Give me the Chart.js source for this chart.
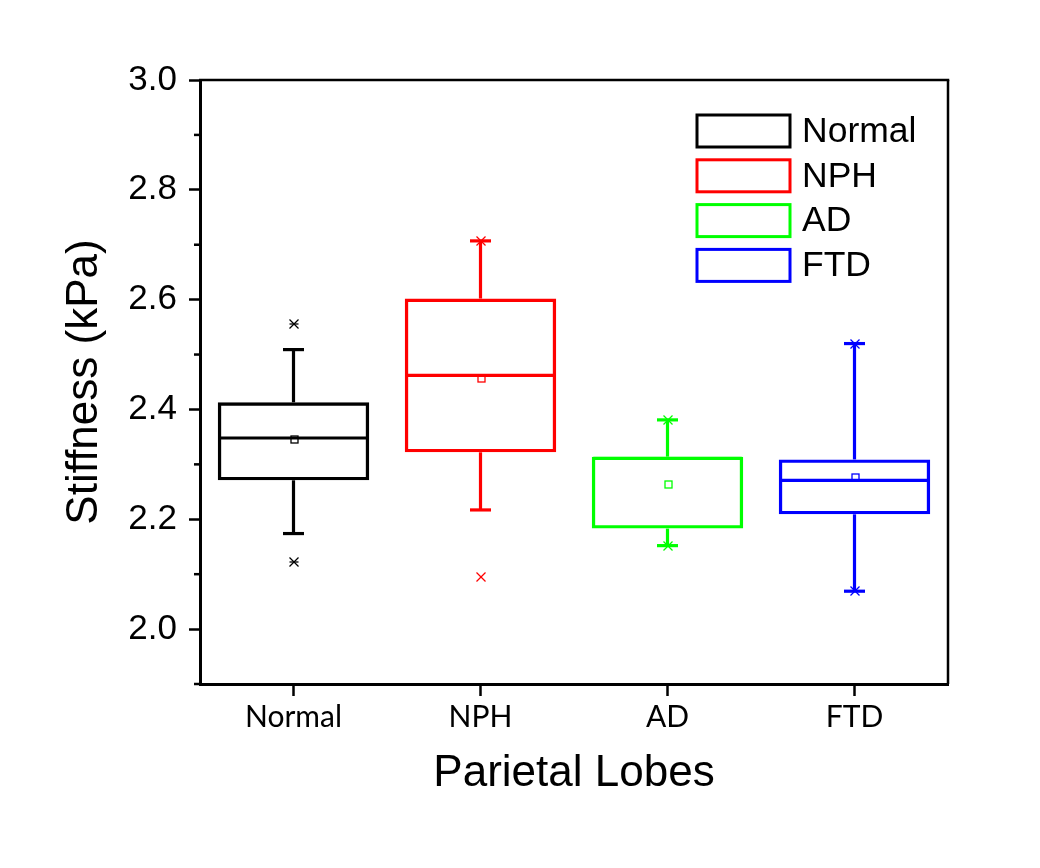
<!DOCTYPE html>
<html><head><meta charset="utf-8">
<script src="https://cdn.jsdelivr.net/npm/chart.js@4/dist/chart.umd.min.js"></script>
<style>html,body{margin:0;padding:0;background:#fff}#wrap{width:1040px;height:868px}</style>
</head><body><div id="wrap"><canvas id="c" width="1040" height="868"></canvas></div>
<script>
const categories = ['Normal', 'NPH', 'AD', 'FTD'];
const colors = ['#000000', '#FF0000', '#00FF00', '#0000FF'];
const q1 = [2.271, 2.322, 2.183, 2.209];
const q3 = [2.413, 2.602, 2.314, 2.309];
const median = [2.348, 2.462, 2.311, 2.271];
const mean = [2.347, 2.457, 2.265, 2.277];
const whiskerLow = [2.174, 2.217, 2.152, 2.069];
const whiskerHigh = [2.509, 2.707, 2.381, 2.520];
const markLow = [2.122, 2.094, 2.152, 2.069];
const markHigh = [2.556, 2.707, 2.381, 2.520];
const yMajorTicks = [2.0, 2.2, 2.4, 2.6, 2.8, 3.0];
const yMinorTicks = [1.9, 2.1, 2.3, 2.5, 2.7, 2.9];
const yTitle = 'Stiffness (kPa)';
const xTitle = 'Parietal Lobes';

const ARIAL = '"Liberation Sans", Arial, sans-serif';

function line(ctx, x1, y1, x2, y2) {
  ctx.beginPath(); ctx.moveTo(x1, y1); ctx.lineTo(x2, y2); ctx.stroke();
}

const boxPlugin = {
  id: 'boxExtras',
  afterDatasetsDraw(chart) {
    const ctx = chart.ctx, xs = chart.scales.x, ys = chart.scales.y;
    const meta = chart.getDatasetMeta(0);
    ctx.save();
    categories.forEach((c, i) => {
      const cx = xs.getPixelForValue(i);
      const half = meta.data[i].width / 2;
      const yp = v => ys.getPixelForValue(v);
      ctx.strokeStyle = colors[i];
      ctx.lineCap = 'butt';
      ctx.lineWidth = 3.2;
      line(ctx, cx - half + 1.5, yp(median[i]), cx + half - 1.5, yp(median[i]));
      line(ctx, cx, yp(q3[i]), cx, yp(whiskerHigh[i]));
      line(ctx, cx, yp(q1[i]), cx, yp(whiskerLow[i]));
      line(ctx, cx - 10.5, yp(whiskerHigh[i]), cx + 10.5, yp(whiskerHigh[i]));
      line(ctx, cx - 10.5, yp(whiskerLow[i]), cx + 10.5, yp(whiskerLow[i]));
      ctx.lineWidth = 1.3;
      const my = Math.round(yp(mean[i]));
      const mx = Math.round(cx);
      ctx.strokeRect(mx - 3, my - 3, 7, 7);
      [markLow[i], markHigh[i]].forEach(v => {
        const py = Math.round(yp(v)), s = 4.5;
        line(ctx, mx - s, py - s, mx + s, py + s);
        line(ctx, mx - s, py + s, mx + s, py - s);
        if (i === 0) line(ctx, mx - s, py, mx + s, py);
      });
    });
    ctx.restore();
  },
  afterDraw(chart) {
    const ctx = chart.ctx, a = chart.chartArea, ys = chart.scales.y;
    ctx.save();
    ctx.strokeStyle = '#000';
    ctx.lineWidth = 2.5;
    line(ctx, a.left - 1, a.top, a.right + 1.25, a.top);
    line(ctx, a.right, a.top, a.right, a.bottom);
    yMinorTicks.forEach(v => {
      const py = ys.getPixelForValue(v);
      line(ctx, a.left - 6, py, a.left, py);
    });
    // legend
    const bx = a.right - 251, by0 = a.top + 35, bw = 93, bh = 32, gap = 44.8;
    ctx.font = '35.5px ' + ARIAL;
    ctx.textBaseline = 'middle';
    ctx.textAlign = 'left';
    categories.forEach((c, i) => {
      const by = by0 + i * gap;
      ctx.lineWidth = 3;
      ctx.strokeStyle = colors[i];
      ctx.strokeRect(bx, by, bw, bh);
      ctx.fillStyle = '#000';
      ctx.fillText(c, bx + bw + 12, by + bh / 2 + 1);
    });
    ctx.restore();
  }
};

new Chart(document.getElementById('c'), {
  type: 'bar',
  data: {
    labels: categories,
    datasets: [{
      data: categories.map((c, i) => [q1[i], q3[i]]),
      backgroundColor: 'rgba(0,0,0,0)',
      borderColor: colors,
      borderWidth: 3.4,
      borderSkipped: false,
      barPercentage: 0.81,
      categoryPercentage: 1.0,
      inflateAmount: 0
    }]
  },
  options: {
    responsive: false,
    devicePixelRatio: 1,
    animation: false,
    layout: { padding: { left: 58, right: 92, top: 80, bottom: 68 } },
    plugins: { legend: { display: false }, tooltip: { enabled: false } },
    scales: {
      x: {
        offset: true,
        grid: { display: true, offset: false, drawOnChartArea: false, tickLength: 12, tickWidth: 2.5, tickColor: '#000' },
        border: { display: true, color: '#000', width: 3 },
        ticks: { color: '#000', font: { family: 'Lato, "Open Sans", sans-serif', size: 30 }, padding: 3, maxRotation: 0 },
        title: { display: true, text: xTitle, color: '#000', font: { family: ARIAL, size: 44 }, padding: 0 },
        afterFit(s) { s.height = 116; }
      },
      y: {
        min: 1.9, max: 3.0,
        afterBuildTicks(s) { s.ticks = yMajorTicks.map(v => ({ value: v })); },
        grid: { display: true, drawOnChartArea: false, tickLength: 11, tickWidth: 2.5, tickColor: '#000' },
        border: { display: true, color: '#000', width: 3 },
        ticks: { color: '#000', font: { family: ARIAL, size: 35 }, padding: 12, callback: v => Number(v).toFixed(1) },
        title: { display: true, text: yTitle, color: '#000', font: { family: ARIAL, size: 44 }, padding: 0 },
        afterFit(s) { s.width = 142; }
      }
    }
  },
  plugins: [boxPlugin]
});
</script></body></html>
